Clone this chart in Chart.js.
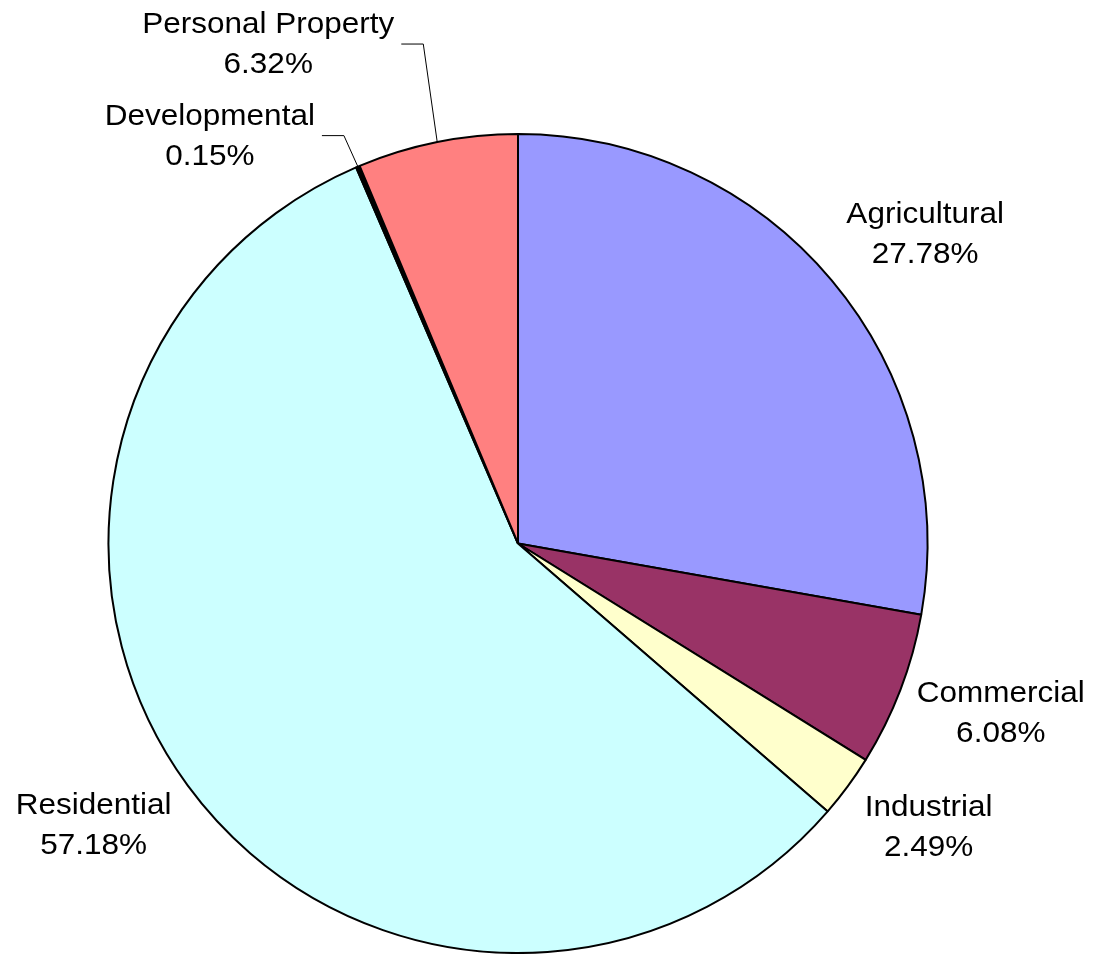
<!DOCTYPE html>
<html lang="en">

<head>
    <meta charset="UTF-8">
    <title>Property Class Share</title>
    <script src="https://cdn.jsdelivr.net/npm/chart.js"></script>
    <style>
        body {
            margin: 0;
            background: #ffffff;
        }

        #wrap {
            width: 1095px;
            height: 954px;
            position: relative;
        }
    </style>
</head>

<body>
    <div id="wrap">
        <canvas id="pieChart"></canvas>
    </div>

    <script type="text/javascript">
        // slices, clockwise from 12 o'clock
        const categories = ['Agricultural', 'Commercial', 'Industrial', 'Residential', 'Developmental', 'Personal Property'];
        const shares = [27.78, 6.08, 2.49, 57.18, 0.15, 6.32];
        const sliceColors = ['#9999FF', '#993366', '#FFFFCC', '#CCFFFF', '#000000', '#FF8080'];

        // label placement tweaks (px) relative to the slice anchor; leader = draw a connector
        const labelNudge = [[7, 1], [7, -20], [9, -5], [-8, -6], [-148, -30], [-169, -97]];
        const labelLeader = [false, false, false, false, true, true];

        const FONT = '30px "Liberation Sans", Arial, sans-serif';
        const STRETCH = 1.05;
        const LINE_H = 40;

        const pieLabels = {
            id: 'pieLabels',
            afterDatasetsDraw(chart) {
                const ctx = chart.ctx;
                const meta = chart.getDatasetMeta(0);
                ctx.save();
                ctx.font = FONT;
                ctx.fillStyle = '#000';
                ctx.textAlign = 'center';
                ctx.textBaseline = 'middle';
                meta.data.forEach((arc, i) => {
                    const mid = (arc.startAngle + arc.endAngle) / 2;
                    const ux = Math.cos(mid), uy = Math.sin(mid);
                    const line1 = categories[i];
                    const line2 = shares[i].toFixed(2) + '%';
                    const w = Math.max(ctx.measureText(line1).width, ctx.measureText(line2).width) * STRETCH;
                    const h = LINE_H * 2;
                    let cx, cy;
                    if (labelLeader[i]) {
                        const px = arc.x + ux * arc.outerRadius;
                        const py = arc.y + uy * arc.outerRadius;
                        cx = px + labelNudge[i][0];
                        cy = py + labelNudge[i][1];
                        const right = cx + w / 2;
                        ctx.strokeStyle = '#000';
                        ctx.lineWidth = 1;
                        ctx.beginPath();
                        ctx.moveTo(px, py);
                        ctx.lineTo(right + 29, cy - 1);
                        ctx.lineTo(right + 7, cy - 1);
                        ctx.stroke();
                    } else {
                        const r = arc.outerRadius + 10;
                        const ax = arc.x + ux * r;
                        const ay = arc.y + uy * r;
                        cx = ax + Math.sign(ux) * w / 2 + labelNudge[i][0];
                        cy = ay + Math.sign(uy) * h / 2 + labelNudge[i][1];
                    }
                    [line1, line2].forEach((t, k) => {
                        ctx.save();
                        ctx.translate(cx, cy + (k - 0.5) * LINE_H);
                        ctx.scale(STRETCH, 1);
                        ctx.fillText(t, 0, 0);
                        ctx.restore();
                    });
                });
                ctx.restore();
            }
        };

        const ctx = document.getElementById('pieChart').getContext('2d');
        const pieChart = new Chart(ctx, {
            type: 'pie',
            data: {
                labels: categories,
                datasets: [{
                    data: shares,
                    backgroundColor: sliceColors,
                    borderColor: '#000000',
                    borderWidth: 2
                }]
            },
            options: {
                responsive: true,
                maintainAspectRatio: false,
                animation: false,
                layout: {
                    padding: { top: 133, left: 0, right: 59, bottom: 0 }
                },
                plugins: {
                    legend: { display: false },
                    tooltip: { enabled: false }
                }
            },
            plugins: [pieLabels]
        });
    </script>

</body>

</html>
